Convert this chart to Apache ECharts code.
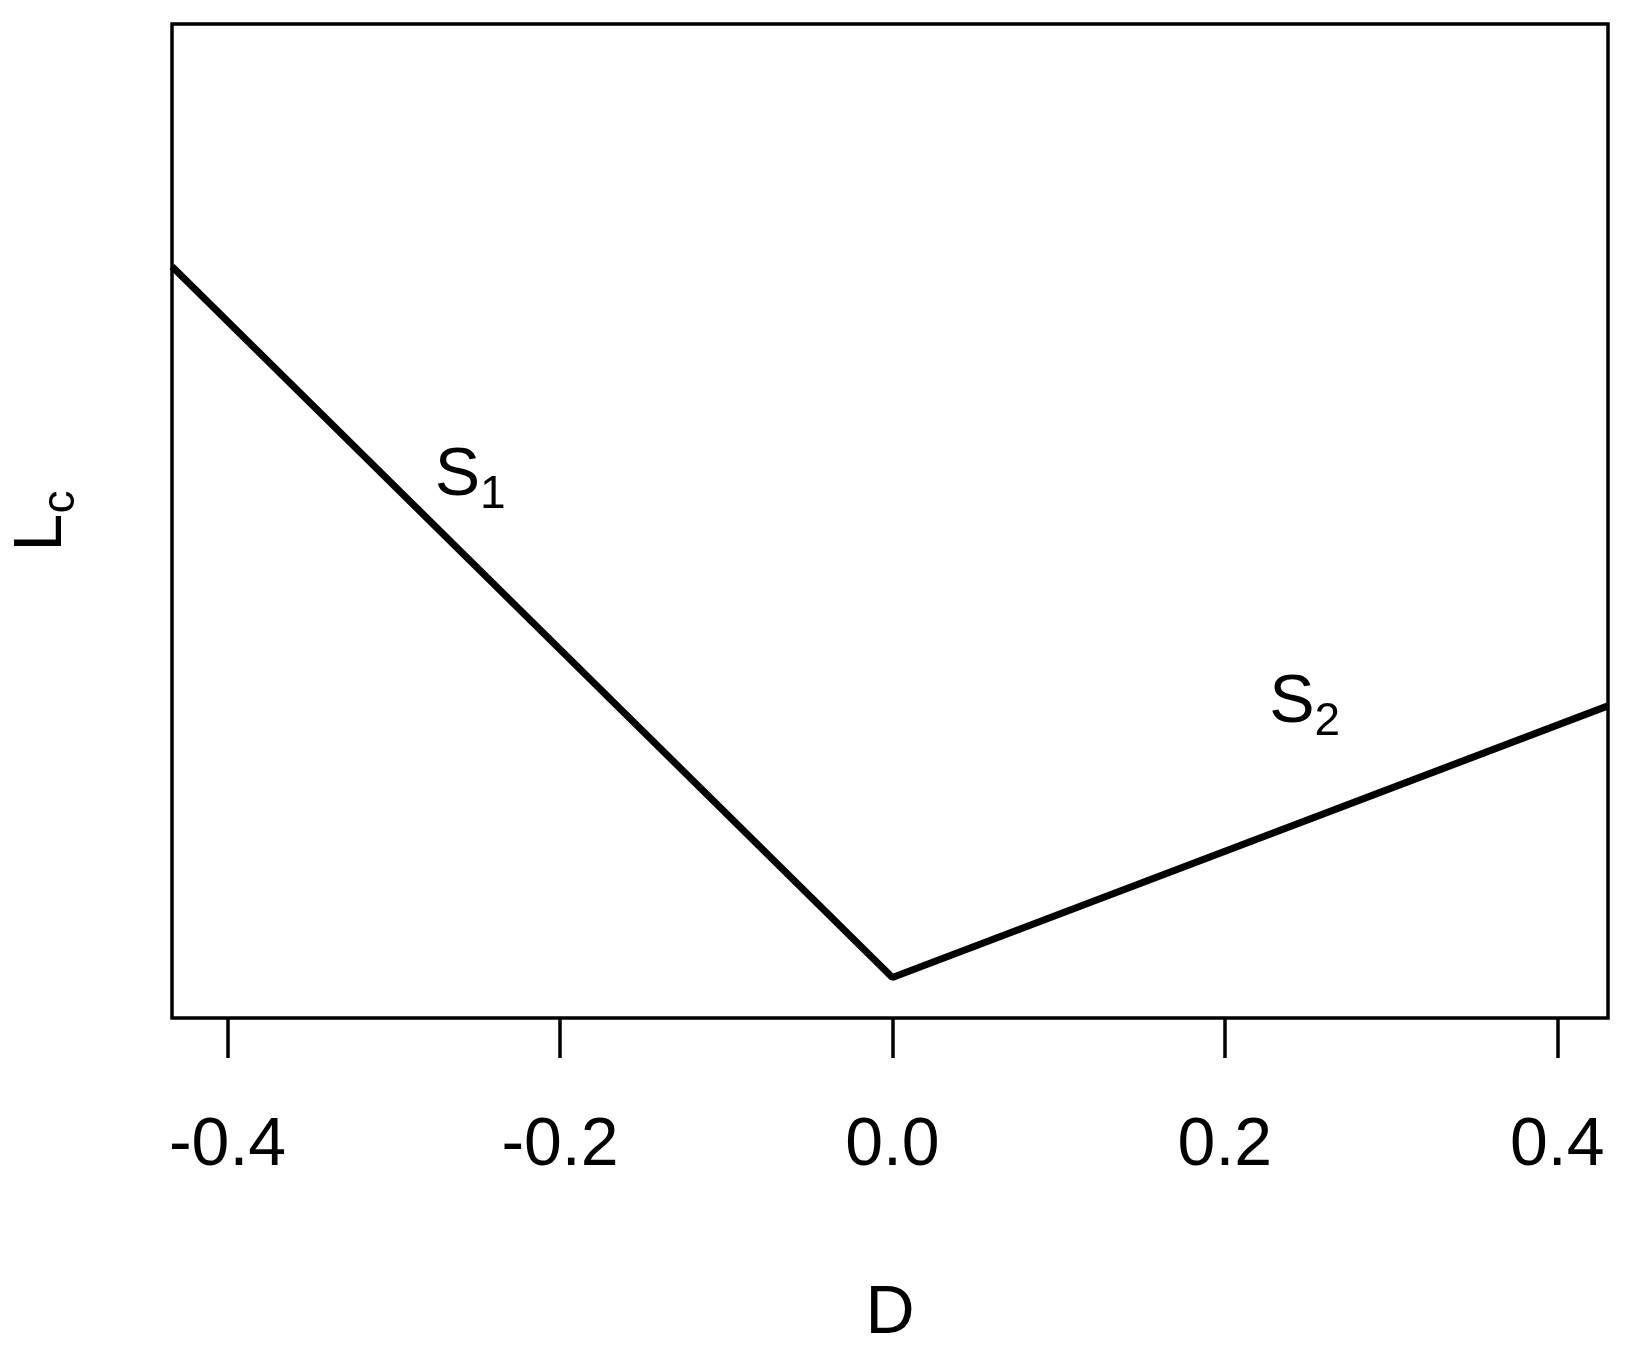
<!DOCTYPE html>
<html>
<head>
<meta charset="utf-8">
<script src="https://cdn.jsdelivr.net/npm/echarts@6/dist/echarts.min.js"></script>
<style>
  html, body { margin: 0; padding: 0; background: #fff; }
  #chart { width: 1636px; height: 1361px; }
</style>
</head>
<body>
<div id="chart"></div>
<script>
// piecewise curve L_c against D
const dValues = [-0.4334, 0.0, 0.4305];
const lcValues = [75.6, 4.07, 31.4];
const xTicks = [-0.4, -0.2, 0.0, 0.2, 0.4];
// segment labels S1 / S2 (data coords)
const segNames = ["1", "2"];
const segX = [-0.254, 0.248];
const segY = [54.1, 31.3];

const FONT = "Liberation Sans, Arial, sans-serif";

const chart = echarts.init(document.getElementById("chart"));

const lineData = dValues.map((d, i) => [d, lcValues[i]]);
const labelData = segNames.map((n, i) => ({ value: [segX[i], segY[i]], sub: n }));

const options = {
  animation: false,
  grid: {
    left: 171,
    right: 28,
    top: 24,
    bottom: 343,
    show: true,
    borderColor: "#000",
    borderWidth: 3.5,
    backgroundColor: "#fff",
  },
  xAxis: {
    type: "value",
    min: dValues[0],
    max: dValues[dValues.length - 1],
    name: "D",
    nameLocation: "middle",
    nameGap: 262,
    nameTextStyle: { fontFamily: FONT, fontSize: 68, color: "#000" },
    axisLine: { show: false },
    splitLine: { show: false },
    axisTick: {
      show: true,
      length: 40,
      customValues: xTicks,
      lineStyle: { color: "#000", width: 3.5 },
    },
    axisLabel: {
      customValues: xTicks,
      margin: 94,
      fontFamily: FONT,
      fontSize: 68,
      color: "#000",
      formatter: (v) => v.toFixed(1),
    },
  },
  yAxis: {
    type: "value",
    min: 0,
    max: 100,
    name: "{l|L}{c|c}",
    nameLocation: "middle",
    nameGap: 88,
    nameTextStyle: {
      color: "#000",
      rich: {
        l: { fontFamily: FONT, fontSize: 68, color: "#000", verticalAlign: "bottom", padding: [0, 0, 8, 0] },
        c: { fontFamily: FONT, fontSize: 46, color: "#000", verticalAlign: "bottom" },
      },
    },
    axisLine: { show: false },
    axisTick: { show: false },
    axisLabel: { show: false },
    splitLine: { show: false },
  },
  series: [
    {
      type: "line",
      data: lineData,
      symbol: "none",
      lineStyle: { color: "#000", width: 7 },
    },
    {
      type: "scatter",
      data: labelData,
      symbolSize: 0,
      silent: true,
      itemStyle: { opacity: 1, color: "#000" },
      label: {
        show: true,
        position: "inside",
        opacity: 1,
        formatter: (p) => "{s|S}{n|" + p.data.sub + "}",
        color: "#000",
        rich: {
          s: { fontFamily: FONT, fontSize: 68, color: "#000", verticalAlign: "bottom", padding: [0, 0, 8, 0] },
          n: { fontFamily: FONT, fontSize: 46, color: "#000", verticalAlign: "bottom" },
        },
      },
    },
  ],
};

chart.setOption(options);
window.addEventListener("resize", () => chart.resize());
</script>
</body>
</html>
